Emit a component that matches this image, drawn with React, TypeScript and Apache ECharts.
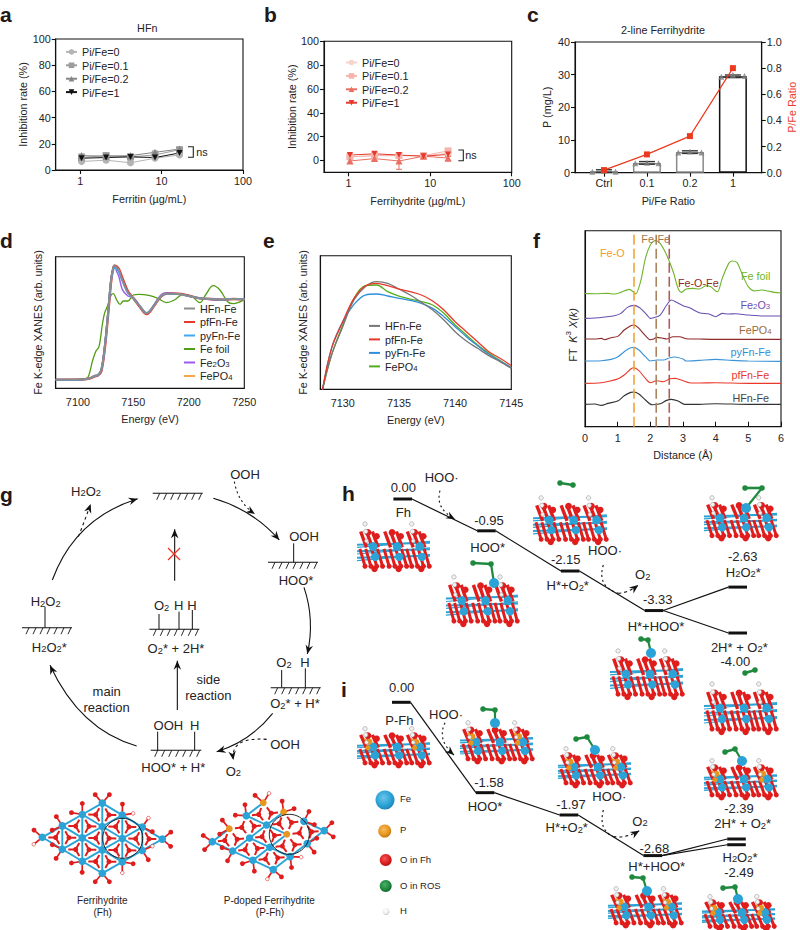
import React, { useEffect, useRef } from "react";
import * as echarts from "echarts";

const FONT = "Liberation Sans";
const INK = "#262324";
const FS = 10.8;

// ---------- data ----------
const concX = [1.04, 2.08, 4.15, 8.3, 16.6];
const piNames = ["Pi/Fe=0", "Pi/Fe=0.1", "Pi/Fe=0.2", "Pi/Fe=1"];
const piSymbols = ["circle", "rect", "triangle", "path://M0,0 L10,0 L5,10 Z"];
const hfnColors = ["#b4b4b4", "#9c9c9c", "#858585", "#111111"];
const fhColors = ["#f7d3cd", "#f4b5ae", "#ea6e62", "#e4392b"];
const hfnValues = [
  [6.5, 7.5, 5.5, 9, 11.5],
  [9.5, 11, 10, 11.5, 15.5],
  [11, 10.5, 11, 13.5, 16],
  [9, 9.5, 10, 9.5, 13],
];
const hfnErr = [1.2, 1.5, 1.2, 1, 1.2];
const fhValues = [
  [3, 4, 4, 4, 6],
  [3, 4, 4, 4, 8],
  [-0.5, 1.5, -0.5, 3.5, 2],
  [4.5, 5.5, 4.5, 3.5, 5],
];
const fhErr0 = [2, 2.5, 2, 2, 2];
const fhErr2 = [2, 2, 7, 2, 2.5];

const cCats = ["Ctrl", "0.1", "0.2", "1"];
const cMeans = [0.5, 3, 6.3, 29.5];
const cBarColors = ["#8a8a8a", "#8a8a8a", "#8a8a8a", "#111111"];
const cPts = [
  [0.3, 0.6, 0.3],
  [2.9, 3.05, 2.9],
  [6.2, 6.5, 6.2],
  [29.4, 30, 29.6],
];
const cJitter = [-0.27, 0, 0.27];
const cRatio = [0.02, 0.14, 0.28, 0.8];

const dMainX = [7080, 7100, 7108, 7112, 7115, 7118, 7121, 7124, 7127, 7130, 7132, 7133, 7135, 7137, 7140, 7145, 7150, 7155, 7160, 7162, 7165, 7170, 7175, 7180, 7190, 7200, 7210, 7220, 7230, 7240, 7250];
const dHFn = [26, 26, 28, 32, 38, 40, 55, 120, 220, 330, 365, 370, 362, 355, 325, 288, 270, 250, 228, 225, 232, 255, 277, 284, 283, 277, 270, 268, 266, 268, 267];
const dPf = [26, 26, 28, 31, 36, 38, 50, 112, 212, 322, 362, 368, 366, 358, 332, 292, 270, 248, 226, 223, 230, 254, 276, 284, 284, 278, 270, 268, 266, 268, 267];
const dPy = [26, 26, 28, 32, 37, 40, 54, 118, 218, 326, 358, 362, 358, 350, 324, 287, 270, 250, 229, 226, 233, 256, 277, 284, 283, 277, 270, 268, 266, 268, 267];
const dFe2O3 = [26, 26, 28, 32, 38, 40, 56, 122, 222, 332, 364, 366, 350, 335, 297, 277, 272, 252, 230, 226, 234, 258, 281, 287, 284, 276, 270, 266, 264, 268, 268];
const dPO4 = [26, 26, 28, 31, 36, 39, 52, 116, 216, 326, 362, 366, 360, 352, 326, 288, 270, 250, 229, 226, 232, 255, 277, 284, 283, 277, 270, 268, 266, 268, 267];
const dFoilX = [7080, 7100, 7108, 7110, 7113, 7116, 7119, 7122, 7124, 7127, 7130, 7132, 7135, 7138, 7141, 7145, 7150, 7155, 7165, 7172, 7180, 7187, 7195, 7203, 7210, 7215, 7222, 7228, 7235, 7240, 7245, 7250];
const dFoil = [26, 27, 30, 40, 80, 110, 125, 190, 225, 250, 280, 284, 265, 252, 262, 262, 280, 282, 278, 270, 257, 265, 282, 275, 257, 280, 308, 295, 260, 254, 258, 266];

const eX = [7128.2, 7129, 7130, 7131, 7132, 7133, 7134, 7135, 7136, 7137, 7138, 7139, 7140, 7141, 7142, 7143, 7144, 7145];
const eHFn = [0, 103, 188, 268, 308, 323, 318, 301, 283, 261, 238, 208, 173, 145, 123, 101, 83, 63];
const ePf = [0, 123, 203, 273, 310, 318, 311, 301, 293, 283, 265, 238, 203, 173, 143, 113, 93, 71];
const ePy = [0, 123, 203, 255, 283, 286, 280, 273, 267, 258, 243, 218, 188, 158, 131, 105, 85, 65];
const ePO4 = [0, 103, 193, 273, 311, 313, 293, 280, 271, 263, 253, 228, 193, 163, 133, 108, 86, 63];

const fNames = ["Fe foil", "Fe2O3", "FePO4", "pyFn-Fe", "pfFn-Fe", "HFn-Fe"];
const fColors = ["#6db52a", "#6b4fb0", "#8e2a2a", "#3b93d8", "#e8392b", "#333333"];
const fSeries: [number, number][][] = [
  [[0,400],[0.3,399],[0.7,400],[0.9,398],[1.1,403],[1.35,412],[1.5,403],[1.55,398],[1.7,435],[1.85,505],[2,545],[2.15,558],[2.3,550],[2.5,515],[2.7,465],[2.85,415],[2.95,403],[3.1,413],[3.3,415],[3.5,413],[3.7,423],[3.85,420],[4,407],[4.06,405],[4.2,445],[4.4,490],[4.5,497],[4.65,493],[4.8,460],[5,420],[5.2,407],[5.4,410],[5.6,407],[5.8,403],[6,401]],
  [[0,325],[0.3,326],[0.6,329],[0.9,333],[1.1,340],[1.3,358],[1.5,364],[1.7,355],[1.9,335],[2,325],[2.1,327],[2.3,335],[2.5,365],[2.65,380],[2.8,373],[3,363],[3.2,357],[3.5,342],[3.8,338],[4,330],[4.2,340],[4.4,338],[4.6,339],[5,335],[5.5,332],[6,332]],
  [[0,263],[0.3,263],[0.5,265],[0.6,261],[0.8,267],[1,271],[1.2,290],[1.4,303],[1.5,305],[1.65,295],[1.85,273],[2,261],[2.1,263],[2.2,268],[2.4,265],[2.5,263],[2.7,270],[2.9,270],[3.1,264],[3.5,263],[4,262],[5,262],[6,262]],
  [[0,197],[0.5,198],[0.8,202],[1,209],[1.2,225],[1.4,237],[1.5,238],[1.65,230],[1.85,210],[2,197],[2.2,200],[2.4,200],[2.6,207],[2.75,209],[3,203],[3.1,197],[3.5,199],[4,202],[4.5,199],[5,197],[6,196]],
  [[0,130],[0.5,132],[0.8,138],[1,143],[1.2,155],[1.4,173],[1.5,177],[1.65,168],[1.85,145],[2,132],[2.2,138],[2.4,135],[2.6,144],[2.75,145],[3,138],[3.2,132],[3.5,131],[4,132],[5,130],[6,130]],
  [[0,67],[0.3,68],[0.5,64],[0.7,70],[1,77],[1.2,93],[1.4,103],[1.5,104],[1.65,98],[1.85,80],[2.05,66],[2.3,69],[2.5,79],[2.65,82],[2.85,77],[3.05,67],[3.5,67],[4,69],[5,67],[6,67]],
];
const fMarks = [
  { x: 1.5, color: "#f2a23c" },
  { x: 2.18, color: "#a8855f" },
  { x: 2.58, color: "#b05a60" },
];

const hSteps = [0, 1, 2, 3, 4, 4];
const hEnergy = [0, -0.95, -2.15, -3.33, -2.63, -4.0];
const iEnergy = [0, -1.58, -1.97, -2.68, -2.39, -2.49];
const levelLinks = [[0, 1], [1, 2], [2, 3], [3, 4], [3, 5]];

// ---------- helpers ----------
const richMap = (size: number, color: string) => ({
  n: { fontSize: size, fill: color, color, fontFamily: FONT, lineHeight: size + 1, verticalAlign: "bottom" },
  s: { fontSize: size * 0.72, fill: color, color, fontFamily: FONT, lineHeight: size + 1, verticalAlign: "bottom", padding: [3, 0, 0, 0] },
});
const rt = (s: string) =>
  s
    .split(/(_\d)/)
    .filter(Boolean)
    .map((p) => (p[0] === "_" ? `{s|${p[1]}}` : `{n|${p}}`))
    .join("");

const txt = (x: number, y: number, t: string, o: any = {}) => {
  const size = o.size ?? 13;
  const color = o.color ?? INK;
  const sub = t.includes("_");
  return {
    type: "text",
    x,
    y,
    silent: true,
    z: 50,
    rotation: o.rotation ?? 0,
    style: {
      text: sub ? rt(t) : t,
      fill: color,
      fontSize: size,
      fontWeight: o.weight ?? "normal",
      fontFamily: FONT,
      align: o.align ?? "center",
      verticalAlign: "middle",
      ...(sub ? { rich: richMap(size, color) } : {}),
    },
  };
};
const seg = (x1: number, y1: number, x2: number, y2: number, color = "#111", w = 1.1, dash?: number[]) => ({
  type: "line",
  silent: true,
  z: 20,
  shape: { x1, y1, x2, y2 },
  style: { stroke: color, lineWidth: w, ...(dash ? { lineDash: dash } : {}) },
});
const head = (x: number, y: number, a: number, size = 9) => {
  const pt = (d: number, s: number) => [x - d * Math.cos(a) - s * Math.sin(a), y - d * Math.sin(a) + s * Math.cos(a)];
  return {
    type: "polygon",
    silent: true,
    z: 21,
    shape: { points: [[x, y], pt(size, size * 0.42), pt(size * 0.68, 0), pt(size, -size * 0.42)] },
    style: { fill: "#111" },
  };
};
const curve = (p: number[], o: any = {}) => {
  const [x1, y1, cx, cy, x2, y2] = p.map((v, i) => (i % 2 === 0 ? v / 3 + (o.ox ?? 0) : v / 3 + (o.oy ?? 430)));
  const out: any[] = [
    {
      type: "bezierCurve",
      silent: true,
      z: 20,
      shape: { x1, y1, cpx1: cx, cpy1: cy, x2, y2 },
      style: { stroke: "#111", lineWidth: o.w ?? 1.1, fill: "none", ...(o.dash ? { lineDash: o.dash } : {}) },
    },
  ];
  if (o.arrow !== false) out.push(head(x2, y2, Math.atan2(y2 - cy, x2 - cx), o.size ?? 9));
  return out;
};
const surf = (x0: number, x1: number, y: number) => {
  const out: any[] = [seg(x0, y, x1, y, "#111", 1.1)];
  for (let x = x0 + 7; x < x1 + 1; x += 7) out.push(seg(x, y, x - 3, y + 6.5, "#111", 0.9));
  return out;
};

const BLUE = "#2ba3d6";
const RED = "#e01d1d";
const GREEN = "#1f8a3e";
const ORANGE = "#e8961e";
const dot = (x: number, y: number, r: number, fill: any, stroke?: string) => ({
  type: "circle",
  silent: true,
  z: 30,
  shape: { cx: x, cy: y, r },
  style: { fill, ...(stroke ? { stroke, lineWidth: 0.6 } : {}) },
});
const ball = (x: number, y: number, r: number, fill: any) => dot(x, y, r, fill);
const sphere = (x: number, y: number, r: number, light: string, base: string, dark: string) =>
  dot(x, y, r, {
    type: "radial",
    x: 0.42,
    y: 0.38,
    r: 0.68,
    colorStops: [
      { offset: 0, color: light },
      { offset: 0.6, color: base },
      { offset: 1, color: dark },
    ],
  });

const slab = (x: number, y: number, w: number, h: number, o: any = {}) => {
  const out: any[] = [];
  const cols = [0.2, 0.53, 0.84];
  const X = (f: number) => x + w * f;
  const Y = (f: number) => y + h * f;
  // Fe planes sit behind the oxygen columns
  [0.44, 0.58, 0.72].forEach((r) => {
    out.push(seg(x, Y(r) + 1, x + w, Y(r) - 1, BLUE, 2));
    out.push(seg(x, Y(r + 0.08), x + w, Y(r - 0.05), BLUE, 1.2));
  });
  cols.forEach((c, i) => {
    // lower oxygen rows
    [-0.16, -0.08, 0, 0.08].forEach((d) => {
      out.push(seg(X(c + d), Y(0.55), X(c + d + 0.07), Y(0.92), RED, 3));
      out.push(ball(X(c + d + 0.07), Y(0.92), 2.5, RED));
    });
    out.push(ball(X(c + 0.04), Y(0.98), 3.2, RED));
    // upper oxygen rows
    [-0.1, -0.02, 0.06].forEach((d) => {
      out.push(seg(X(c + d - 0.05), Y(0.18), X(c + d + 0.03), Y(0.52), RED, 3.4));
    });
    out.push(ball(X(c - 0.05), Y(0.2), 3.4, RED));
    out.push(ball(X(c + 0.07), Y(0.28), 3.2, RED));
    out.push(ball(X(c + 0.02), Y(0.5), 4.4, BLUE));
    out.push(ball(X(c + 0.05), Y(0.72), 4.2, BLUE));
    if (o.p && i !== 1) {
      out.push(seg(X(c - 0.1), Y(0.28), X(c + 0.02), Y(0.5), ORANGE, 2));
      out.push(ball(X(c - 0.03), Y(0.36), 3, ORANGE));
      out.push(ball(X(c - 0.05), Y(0.52), 2.6, ORANGE));
    }
    if (i !== 1) {
      out.push(dot(X(c - 0.09), Y(0.02), 2.2, "#f2f2f2", "#999"));
      out.push(dot(X(c - 0.08), Y(0.18), 2.2, "#f2f2f2", "#999"));
      out.push(dot(X(c - 0.07), Y(0.38), 1.9, "#f2f2f2", "#999"));
    }
  });
  return out;
};
const ros = (a: number[], b: number[], fe?: number[]) => {
  const out: any[] = [seg(a[0], a[1], b[0], b[1], GREEN, 2.6), ball(a[0], a[1], 2.8, GREEN), ball(b[0], b[1], 2.8, GREEN)];
  if (fe) {
    out.push(seg(b[0], b[1], fe[0], fe[1], GREEN, 2.2));
    out.push(ball(fe[0], fe[1], 5, BLUE));
  }
  return out;
};
const hexView = (x0: number, y0: number, a1: number[], a2: number[], orange: string[], ring: number[], seed: number) => {
  const out: any[] = [];
  const P = (i: number, j: number) => [x0 + i * a1[0] + j * a2[0], y0 + i * a1[1] + j * a2[1]];
  for (let i = 0; i < 4; i++)
    for (let j = 0; j < 4; j++) {
      const c = P(i, j);
      if (i < 3 && !orange.includes(`${i},${j}`)) out.push(seg(c[0], c[1], P(i + 1, j)[0], P(i + 1, j)[1], BLUE, 1.9));
      if (j < 3 && !orange.includes(`${i},${j}`)) out.push(seg(c[0], c[1], P(i, j + 1)[0], P(i, j + 1)[1], BLUE, 1.9));
      if (i < 3 && j > 0 && seed === 0) out.push(seg(c[0], c[1], P(i + 1, j - 1)[0], P(i + 1, j - 1)[1], BLUE, 1.9));
    }
  const trefoil = (c: number[], vs: number[][]) => {
    vs.forEach((v) => {
      const m = [c[0] * 0.45 + v[0] * 0.55, c[1] * 0.45 + v[1] * 0.55];
      out.push(seg(c[0], c[1], m[0], m[1], RED, 2));
    });
    out.push(ball(c[0], c[1], 2.5, RED));
  };
  for (let i = 0; i < 3; i++)
    for (let j = 0; j < 3; j++) {
      const p = P(i, j);
      const q = P(i + 1, j);
      const r = P(i, j + 1);
      const s = P(i + 1, j + 1);
      trefoil([(p[0] + q[0] + r[0]) / 3, (p[1] + q[1] + r[1]) / 3], [p, q, r]);
      trefoil([(s[0] + q[0] + r[0]) / 3, (s[1] + q[1] + r[1]) / 3], [s, q, r]);
    }
  for (let i = 0; i < 4; i++)
    for (let j = 0; j < 4; j++) {
      if (i > 0 && i < 3 && j > 0 && j < 3) continue;
      const c = P(i, j);
      const vx = c[0] - P(1.5, 1.5)[0];
      const vy = c[1] - P(1.5, 1.5)[1];
      const len = Math.hypot(vx, vy) || 1;
      [-0.7, 0.7].forEach((t, k) => {
        const ang = Math.atan2(vy, vx) + t;
        const ex = c[0] + 11 * Math.cos(ang);
        const ey = c[1] + 11 * Math.sin(ang);
        out.push(seg(c[0], c[1], ex, ey, RED, 1.7));
        const white = (i + j + k + seed) % 5 === 0 && len > 30;
        out.push(white ? dot(ex, ey, 1.8, "#fff", RED) : ball(ex, ey, 2.4, RED));
      });
    }
  for (let i = 0; i < 4; i++)
    for (let j = 0; j < 4; j++) {
      const c = P(i, j);
      if (orange.includes(`${i},${j}`)) out.push(ball(c[0], c[1], 3.4, ORANGE));
      else out.push(ball(c[0], c[1], 3.8, BLUE));
    }
  out.push({
    type: "circle",
    silent: true,
    z: 35,
    shape: { cx: ring[0], cy: ring[1], r: 20 },
    style: { fill: "none", stroke: "#111", lineWidth: 0.9 },
  });
  return out;
};

// ---------- panels ----------
const axisText = { color: INK, fontSize: FS, fontFamily: FONT, margin: 5 };
const axLine = { show: true, onZero: false, lineStyle: { color: "#111", width: 1.1 } };
const tick = { show: true, length: 4, lineStyle: { color: "#111", width: 1.1 } };
const nameStyle = { color: INK, fontSize: FS, fontFamily: FONT };
const gridBox = (left: number, top: number, right: number, bottom: number) => ({
  show: true,
  left,
  top,
  width: right - left,
  height: bottom - top,
  borderColor: "#111",
  borderWidth: 1.1,
  backgroundColor: "transparent",
});
const logX = (i: number, name: string) => ({
  type: "log",
  gridIndex: i,
  logBase: 10,
  min: 0.5,
  max: 100,
  name,
  nameLocation: "middle",
  nameGap: 23,
  nameTextStyle: nameStyle,
  axisLine: axLine,
  axisTick: { ...tick, customValues: [1, 10, 100] },
  axisLabel: { ...axisText, customValues: [1, 10, 100], formatter: (v: number) => String(Math.round(v)) },
  minorTick: { show: false },
  splitLine: { show: false },
});
const rateY = (i: number, min: number, gap: number) => ({
  type: "value",
  gridIndex: i,
  min,
  max: 100,
  name: "Inhibition rate (%)",
  nameLocation: "middle",
  nameGap: gap,
  nameTextStyle: nameStyle,
  axisLine: axLine,
  axisTick: { ...tick, customValues: [0, 20, 40, 60, 80, 100] },
  axisLabel: { ...axisText, customValues: [0, 20, 40, 60, 80, 100] },
  splitLine: { show: false },
});
const errBars = (xi: number, yi: number, rows: number[][], color: string, cap = 3, w = 1) => ({
  type: "custom",
  xAxisIndex: xi,
  yAxisIndex: yi,
  silent: true,
  z: 3,
  data: rows,
  encode: { x: 0, y: [1, 2] },
  renderItem: (_p: any, api: any) => {
    const lo = api.coord([api.value(0), api.value(1)]);
    const hi = api.coord([api.value(0), api.value(2)]);
    const st = { stroke: color, lineWidth: w };
    return {
      type: "group",
      children: [
        { type: "line", shape: { x1: lo[0], y1: lo[1], x2: hi[0], y2: hi[1] }, style: st },
        { type: "line", shape: { x1: lo[0] - cap, y1: lo[1], x2: lo[0] + cap, y2: lo[1] }, style: st },
        { type: "line", shape: { x1: hi[0] - cap, y1: hi[1], x2: hi[0] + cap, y2: hi[1] }, style: st },
      ],
    };
  },
});
const doseSeries = (xi: number, colors: string[], values: number[][]) =>
  values.map((vals, k) => ({
    type: "line",
    name: piNames[k],
    xAxisIndex: xi,
    yAxisIndex: xi,
    z: 5,
    symbol: piSymbols[k],
    symbolSize: k === 3 ? 6 : 7,
    lineStyle: { color: colors[k], width: 1 },
    itemStyle: { color: colors[k] },
    data: vals.map((v, i) => [concX[i], v]),
  }));
const legendAt = (left: number, top: number, names: any[], gap: number, w = 11, h = 7) => ({
  show: true,
  orient: "vertical",
  left,
  top,
  padding: 0,
  itemGap: gap,
  itemWidth: w,
  itemHeight: h,
  selectedMode: false,
  align: "left",
  data: names,
  formatter: (n: string) => rt(/^Fe(2O3|PO4)$/.test(n) ? n.replace(/(\d)/g, "_$1") : n),
  textStyle: { color: INK, fontSize: FS, fontFamily: FONT, rich: richMap(FS, INK), padding: [0, 0, 0, 0] },
});
const xanesLine = (xi: number, name: string, xs: number[], ys: number[], color: string, w = 1.6) => ({
  type: "line",
  name,
  xAxisIndex: xi,
  yAxisIndex: xi === 3 ? 4 : 5,
  smooth: 0.35,
  showSymbol: false,
  symbol: "none",
  lineStyle: { color, width: w },
  itemStyle: { color },
  data: xs.map((x, i) => [x, ys[i]]),
});
const lineKey = (name: string, color: string) => ({ name, icon: "rect", itemStyle: { color } });

const levelSeries = (xi: number, yi: number, energy: number[]) => [
  ...levelLinks.map(([a, b]) => ({
    type: "line",
    xAxisIndex: xi,
    yAxisIndex: yi,
    silent: true,
    clip: false,
    symbol: "none",
    lineStyle: { color: "#111", width: 1.2 },
    data: [
      [hSteps[a] + 0.11, energy[a]],
      [hSteps[b] - 0.11, energy[b]],
    ],
  })),
  {
    type: "custom",
    xAxisIndex: xi,
    yAxisIndex: yi,
    silent: true,
    clip: false,
    z: 6,
    data: energy.map((e, i) => [hSteps[i], e]),
    renderItem: (_p: any, api: any) => {
      const c = api.coord([api.value(0), api.value(1)]);
      return {
        type: "line",
        shape: { x1: c[0] - 9.3, y1: c[1], x2: c[0] + 9.3, y2: c[1] },
        style: { stroke: "#111", lineWidth: 3 },
      };
    },
  },
];

const graphicEls = (): any[] => {
  const L: any[] = [];
  const add = (...e: any[]) => e.forEach((v) => (Array.isArray(v) ? L.push(...v) : L.push(v)));
  ([["a", 0, 14], ["b", 264, 14], ["c", 527, 14], ["d", 0, 240], ["e", 263, 240], ["f", 533, 240], ["g", 0, 494], ["h", 342, 493], ["i", 341, 689]] as [string, number, number][]).forEach(
    ([t, x, y]) => add(txt(x, y, t, { size: 21, weight: "bold", align: "left", color: "#231815" }))
  );
  add(txt(147.3, 28, "HFn", { size: FS }), txt(663, 30, "2-line Ferrihydrite", { size: FS }));
  add(
    { type: "polyline", silent: true, shape: { points: [[188, 146.7], [193.3, 146.7], [193.3, 157.3], [188, 157.3]] }, style: { stroke: "#222", lineWidth: 1.1, fill: "none" } },
    { type: "polyline", silent: true, shape: { points: [[458.3, 150], [463.3, 150], [463.3, 160.7], [458.3, 160.7]] }, style: { stroke: "#222", lineWidth: 1.1, fill: "none" } },
    txt(202, 152, "ns", { size: FS }),
    txt(471, 155, "ns", { size: FS })
  );
  add(
    txt(612.3, 253, "Fe-O", { size: FS, color: "#f29a2e" }),
    txt(655.7, 239, "Fe-Fe", { size: FS, color: "#a0754f" }),
    txt(698.3, 283.3, "Fe-O-Fe", { size: FS, color: "#8e2a2a" }),
    txt(755.7, 275.7, "Fe foil", { size: FS, color: "#6db52a" }),
    txt(755.3, 304.3, "Fe_2O_3", { size: FS, color: "#6b4fb0" }),
    txt(755.3, 330, "FePO_4", { size: FS, color: "#9a6a3a" }),
    txt(750.7, 352.3, "pyFn-Fe", { size: FS, color: "#2f8fdc" }),
    txt(750.3, 374.7, "pfFn-Fe", { size: FS, color: "#e8392b" }),
    txt(750.7, 397.7, "HFn-Fe", { size: FS, color: "#444" })
  );
  add({
    type: "text",
    x: 571.7,
    y: 335,
    rotation: Math.PI / 2,
    silent: true,
    style: {
      text: "{n|FT  }{i|K}{u|3}{i| X(k)}",
      align: "center",
      verticalAlign: "middle",
      fill: INK,
      fontFamily: FONT,
      fontSize: FS,
      rich: {
        n: { fontSize: FS, fontFamily: FONT, fill: INK, color: INK, lineHeight: 14, verticalAlign: "bottom" },
        i: { fontSize: FS, fontFamily: FONT, fontStyle: "italic", fill: INK, color: INK, lineHeight: 14, verticalAlign: "bottom" },
        u: { fontSize: 8, fontFamily: FONT, fill: INK, color: INK, lineHeight: 14, verticalAlign: "top" },
      },
    },
  });

  const tg = (x: number, y: number, t: string, o: any = {}) => txt(x / 3, 430 + y / 3, t, o);
  const stick = (x: number, y1: number, y2: number) => seg(x / 3, 430 + y1 / 3, x / 3, 430 + y2 / 3, "#111", 1);
  add(surf(152.7, 202.7, 493.3), surf(268, 318, 562.3), surf(270.7, 320.7, 687.7), surf(150.7, 201.3, 750.3), surf(149.3, 199.3, 629.3), surf(22, 72, 627.7));
  add(stick(881, 340, 397), stick(845, 720, 773), stick(916, 715, 773), stick(473, 905, 961), stick(584, 905, 961), stick(477, 552, 598), stick(537, 545, 598), stick(577, 540, 598), stick(135, 530, 593));
  add(
    tg(735, 132, "OOH"),
    tg(258, 182, "H_2O_2"),
    tg(912, 320, "OOH"),
    tg(888, 450, "HOO*"),
    tg(852, 697, "O_2"),
    tg(915, 697, "H"),
    tg(885, 820, "O_2* + H*"),
    tg(505, 885, "OOH"),
    tg(584, 885, "H"),
    tg(520, 1012, "HOO* + H*"),
    tg(485, 525, "O_2"),
    tg(536, 525, "H"),
    tg(576, 525, "H"),
    tg(528, 655, "O_2* + 2H*"),
    tg(137, 513, "H_2O_2"),
    tg(148, 650, "H_2O_2*"),
    tg(625, 747, "side"),
    tg(625, 795, "reaction"),
    tg(320, 785, "main"),
    tg(320, 832, "reaction"),
    tg(700, 1022, "O_2"),
    tg(855, 943, "OOH"),
    tg(307, 1410, "Ferrihydrite", { size: 10 }),
    tg(308, 1447, "(Fh)", { size: 10 }),
    tg(808, 1410, "P-doped Ferrihydrite", { size: 10 }),
    tg(810, 1447, "(P-Fh)", { size: 10 })
  );
  add(
    curve([157, 450, 225, 265, 413, 206]),
    curve([640, 205, 760, 240, 838, 330]),
    curve([912, 472, 945, 570, 922, 672]),
    curve([818, 850, 750, 935, 650, 965]),
    curve([410, 948, 240, 900, 150, 706]),
    curve([532, 840, 532, 770, 532, 692]),
    curve([524, 452, 524, 380, 524, 298]),
    curve([703, 155, 715, 220, 765, 252], { dash: [2, 3] }),
    curve([235, 320, 255, 270, 272, 222], { dash: [3, 3] }),
    curve([800, 928, 690, 920, 700, 990], { dash: [3, 3] })
  );
  add(seg(168, 548, 180, 560, "#ee3322", 1.2), seg(180, 548, 168, 560, "#ee3322", 1.2));
  add(hexView(42.3, 837.3, [20, -11.4], [20, 12], [], [122.7, 838.3], 0));
  add(hexView(212.3, 841.7, [17, -13], [20.3, 9.3], ["3,0", "1,0", "2,2", "3,1"], [289.3, 834.3], 1));

  add(
    txt(403.3, 487.3, "0.00"),
    txt(403.3, 512.7, "Fh"),
    txt(441.7, 477.3, "HOO·"),
    txt(489, 520, "-0.95"),
    txt(487.7, 547.7, "HOO*"),
    txt(565.7, 559.3, "-2.15"),
    txt(567.7, 585, "H*+O_2*"),
    txt(605, 550.7, "HOO·"),
    txt(642.7, 574, "O_2"),
    txt(657.7, 599.3, "-3.33"),
    txt(656, 626.7, "H*+HOO*"),
    txt(742.7, 556.7, "-2.63"),
    txt(743.3, 571.7, "H_2O_2*"),
    txt(739.3, 646.8, "2H* + O_2*"),
    txt(735.3, 661, "-4.00"),
    txt(401.7, 687.7, "0.00"),
    txt(399.3, 720, "P-Fh"),
    txt(446, 714, "HOO·"),
    txt(489, 782.7, "-1.58"),
    txt(485, 806, "HOO*"),
    txt(571, 804.3, "-1.97"),
    txt(566.7, 827.3, "H*+O_2*"),
    txt(609.3, 796.7, "HOO·"),
    txt(640, 820.7, "O_2"),
    txt(654.3, 848, "-2.68"),
    txt(656.7, 866, "H*+HOO*"),
    txt(739, 808.3, "-2.39"),
    txt(742.7, 823.3, "2H* + O_2*"),
    txt(740, 856.7, "H_2O_2*"),
    txt(739, 872.7, "-2.49")
  );
  const hOpt = { ox: 340, oy: 430 };
  const iOpt = { ox: 340, oy: 680 };
  add(
    curve([300, 182, 285, 235, 345, 268], { ...hOpt, dash: [2, 3] }),
    curve([790, 405, 770, 470, 835, 490], { ...hOpt, dash: [2, 3], arrow: false }),
    curve([835, 490, 865, 488, 895, 465], { ...hOpt, dash: [3, 3] }),
    curve([315, 128, 290, 180, 342, 225], { ...iOpt, dash: [2, 3] }),
    curve([790, 390, 775, 450, 820, 470], { ...iOpt, dash: [2, 3], arrow: false }),
    curve([820, 470, 860, 475, 898, 452], { ...iOpt, dash: [3, 3] })
  );

  add(slab(357, 523, 73, 47));
  add(slab(446, 576, 72, 49), ros([473, 563], [491, 564], [494, 583]));
  add(slab(533, 497, 74, 46), ros([560, 483], [573, 485]));
  add(slab(610, 650, 73, 48), ros([641, 639], [648, 640], [651, 653]));
  add(slab(704, 497, 73, 42), ros([745, 488], [762, 488], [746, 508]));
  add(slab(704, 683, 73, 50), ros([745, 673], [755, 670]));
  add(slab(357, 728, 73, 38, { p: true }));
  add(slab(460, 722, 73, 40, { p: true }), ros([483, 709], [495, 710], [495, 723]));
  add(slab(558, 748, 73, 38, { p: true }), ros([576, 739], [587, 737], [595, 750]));
  add(slab(608, 888, 74, 38, { p: true }), ros([632, 877], [643, 878], [647, 891]));
  add(slab(704, 760, 73, 38, { p: true }), ros([725, 752], [735, 749], [742, 761]));
  add(slab(702, 896, 73, 33, { p: true }), ros([723, 888], [735, 887], [738, 899]));
  add(
    sphere(385, 800, 9.5, "#6cc4ea", BLUE, "#1c7fb0"),
    sphere(384.7, 831, 6.5, "#f6bd62", ORANGE, "#b56f10"),
    sphere(385.7, 860, 6, "#f0595a", RED, "#a81010"),
    sphere(385.7, 886, 6, "#4cae68", GREEN, "#136029"),
    sphere(386, 911.5, 3.5, "#ffffff", "#eeeeee", "#bbbbbb"),
    txt(400, 798, "Fe", { size: 9.5, align: "left" }),
    txt(400, 829.5, "P", { size: 9.5, align: "left" }),
    txt(400, 859.7, "O in Fh", { size: 9.5, align: "left" }),
    txt(400, 885, "O in ROS", { size: 9.5, align: "left" }),
    txt(400, 910, "H", { size: 9.5, align: "left" })
  );
  return L;
};

const buildOption = () => ({
  animation: false,
  backgroundColor: "#ffffff",
  textStyle: { fontFamily: FONT },
  grid: [
    gridBox(55.7, 39, 243, 170),
    gridBox(324, 41.3, 511.7, 172.3),
    gridBox(575, 42, 761.7, 172.7),
    gridBox(55.7, 256.7, 244.3, 388.3),
    gridBox(320.3, 255.7, 511.3, 389.3),
    gridBox(585, 230.7, 781, 426.7),
    { show: false, left: 402.7, top: 499, width: 335, height: 134 },
    { show: false, left: 401.3, top: 702.3, width: 335.2, height: 171.6 },
  ],
  xAxis: [
    logX(0, "Ferritin (µg/mL)"),
    logX(1, "Ferrihydrite (µg/mL)"),
    {
      type: "value",
      gridIndex: 2,
      min: -0.674,
      max: 3.67,
      name: "Pi/Fe Ratio",
      nameLocation: "middle",
      nameGap: 23,
      nameTextStyle: nameStyle,
      axisLine: axLine,
      axisTick: { ...tick, customValues: [0, 1, 2, 3] },
      axisLabel: { ...axisText, customValues: [0, 1, 2, 3], formatter: (v: number) => cCats[v] },
      splitLine: { show: false },
    },
    {
      type: "value",
      gridIndex: 3,
      min: 7080,
      max: 7250,
      name: "Energy (eV)",
      nameLocation: "middle",
      nameGap: 25,
      nameTextStyle: nameStyle,
      axisLine: axLine,
      axisTick: { show: false },
      axisLabel: { ...axisText, margin: 8, customValues: [7100, 7150, 7200, 7250], formatter: (v: number) => String(v) },
      splitLine: { show: false },
    },
    {
      type: "value",
      gridIndex: 4,
      min: 7128,
      max: 7145,
      name: "Energy (eV)",
      nameLocation: "middle",
      nameGap: 25,
      nameTextStyle: nameStyle,
      axisLine: axLine,
      axisTick: { show: false },
      axisLabel: { ...axisText, margin: 8, customValues: [7130, 7135, 7140, 7145], formatter: (v: number) => String(v) },
      splitLine: { show: false },
    },
    {
      type: "value",
      gridIndex: 5,
      min: 0,
      max: 6,
      interval: 1,
      name: "Distance (Å)",
      nameLocation: "middle",
      nameGap: 23,
      nameTextStyle: nameStyle,
      axisLine: axLine,
      axisTick: { show: true, inside: true, length: 5, lineStyle: { color: "#111", width: 1 } },
      axisLabel: { ...axisText, margin: 6 },
      splitLine: { show: false },
    },
    { type: "value", gridIndex: 6, min: 0, max: 4, show: false },
    { type: "value", gridIndex: 7, min: 0, max: 4, show: false },
  ],
  yAxis: [
    rateY(0, 0, 23),
    rateY(1, -10, 23),
    {
      type: "value",
      gridIndex: 2,
      min: 0,
      max: 40,
      interval: 10,
      name: "P (mg/L)",
      nameLocation: "middle",
      nameGap: 23,
      nameTextStyle: nameStyle,
      axisLine: axLine,
      axisTick: tick,
      axisLabel: axisText,
      splitLine: { show: false },
    },
    {
      type: "value",
      gridIndex: 2,
      position: "right",
      min: 0,
      max: 1,
      interval: 0.2,
      name: "P/Fe Ratio",
      nameLocation: "middle",
      nameRotate: 90,
      nameGap: 25,
      nameTextStyle: { ...nameStyle, color: "#ec3a2e" },
      axisLine: axLine,
      axisTick: tick,
      axisLabel: { ...axisText, formatter: (v: number) => v.toFixed(1) },
      splitLine: { show: false },
    },
    {
      type: "value",
      gridIndex: 3,
      min: 0,
      max: 395,
      name: "Fe K-edge XANES (arb. units)",
      nameLocation: "middle",
      nameGap: 12,
      nameTextStyle: nameStyle,
      axisLine: axLine,
      axisTick: { show: false },
      axisLabel: { show: false },
      splitLine: { show: false },
    },
    {
      type: "value",
      gridIndex: 4,
      min: 0,
      max: 401,
      name: "Fe K-edge XANES (arb. units)",
      nameLocation: "middle",
      nameGap: 12,
      nameTextStyle: nameStyle,
      axisLine: axLine,
      axisTick: { show: false },
      axisLabel: { show: false },
      splitLine: { show: false },
    },
    { type: "value", gridIndex: 5, min: 0, max: 588, axisLine: axLine, axisTick: { show: false }, axisLabel: { show: false }, splitLine: { show: false } },
    { type: "value", gridIndex: 6, min: -4, max: 0, show: false },
    { type: "value", gridIndex: 7, min: -3, max: 0, show: false },
  ],
  legend: [
    legendAt(65, 46.8, piNames.map((n, k) => ({ name: n, itemStyle: { color: hfnColors[k] }, lineStyle: { color: hfnColors[k] } })), 2.4),
    legendAt(345, 57.4, piNames.map((n, k) => ({ name: n, itemStyle: { color: fhColors[k] }, lineStyle: { color: fhColors[k] } })), 2.4),
    legendAt(184, 303.4, [
      lineKey("HFn-Fe", "#8c8c8c"),
      lineKey("pfFn-Fe", "#e8392b"),
      lineKey("pyFn-Fe", "#3fa9f5"),
      lineKey("Fe foil", "#4f9e13"),
      lineKey("Fe2O3", "#9b59f0"),
      lineKey("FePO4", "#f5a64c"),
    ], 2.5, 11, 2),
    legendAt(369, 320.8, [
      lineKey("HFn-Fe", "#777777"),
      lineKey("pfFn-Fe", "#e8392b"),
      lineKey("pyFn-Fe", "#2f8fdc"),
      lineKey("FePO4", "#52ae1a"),
    ], 2.5, 11, 2),
  ],
  series: [
    ...doseSeries(0, hfnColors, hfnValues),
    ...hfnValues.map((vals, k) =>
      errBars(0, 0, vals.map((v, i) => [concX[i], v - hfnErr[i], v + hfnErr[i]]), hfnColors[k])
    ),
    ...doseSeries(1, fhColors, fhValues),
    errBars(1, 1, fhValues[0].map((v, i) => [concX[i], v - fhErr0[i], v + fhErr0[i]]), fhColors[1]),
    errBars(1, 1, fhValues[2].map((v, i) => [concX[i], v - fhErr2[i], v + fhErr2[i]]), fhColors[2]),
    errBars(1, 1, fhValues[3].map((v, i) => [concX[i], v - 1.5, v + 1.5]), fhColors[3]),
    {
      type: "bar",
      xAxisIndex: 2,
      yAxisIndex: 2,
      barWidth: 28,
      z: 2,
      data: cMeans.map((v, i) => ({
        value: [i, v],
        itemStyle: { color: "rgba(255,255,255,0)", borderColor: cBarColors[i], borderWidth: 1.5 },
      })),
    },
    errBars(2, 2, cMeans.map((v, i) => [i, v - 0.4, v + 0.4]), "#333", 8, 1.4),
    {
      type: "scatter",
      xAxisIndex: 2,
      yAxisIndex: 2,
      symbol: "triangle",
      symbolSize: 6,
      z: 4,
      itemStyle: { color: "#808080" },
      data: cPts.flatMap((row, i) => row.map((v, j) => [i + cJitter[j], v])),
    },
    {
      type: "line",
      xAxisIndex: 2,
      yAxisIndex: 3,
      z: 6,
      symbol: "rect",
      symbolSize: 6,
      lineStyle: { color: "#ec3a1e", width: 1.2 },
      itemStyle: { color: "#ec3a1e" },
      data: cRatio.map((v, i) => [i, v]),
    },
    xanesLine(3, "Fe foil", dFoilX, dFoil, "#4f9e13", 1.3),
    xanesLine(3, "FePO4", dMainX, dPO4, "#f5a64c", 2),
    xanesLine(3, "Fe2O3", dMainX, dFe2O3, "#9b59f0", 1.4),
    xanesLine(3, "pfFn-Fe", dMainX, dPf, "#e8392b", 2.4),
    xanesLine(3, "pyFn-Fe", dMainX, dPy, "#3fa9f5", 2),
    xanesLine(3, "HFn-Fe", dMainX, dHFn, "#8c8c8c", 1.8),
    xanesLine(4, "FePO4", eX, ePO4, "#52ae1a", 1.3),
    xanesLine(4, "pyFn-Fe", eX, ePy, "#2f8fdc", 1.3),
    xanesLine(4, "HFn-Fe", eX, eHFn, "#777777", 1.3),
    xanesLine(4, "pfFn-Fe", eX, ePf, "#e8392b", 1.3),
    ...fSeries.map((pts, k) => ({
      type: "line",
      name: fNames[k] + " FT",
      xAxisIndex: 5,
      yAxisIndex: 6,
      smooth: 0.3,
      symbol: "none",
      lineStyle: { color: fColors[k], width: 1.1 },
      data: pts,
    })),
    ...fMarks.map((m) => ({
      type: "line",
      xAxisIndex: 5,
      yAxisIndex: 6,
      symbol: "none",
      z: 8,
      lineStyle: { color: m.color, width: 1.6, type: [10, 4] },
      data: [
        [m.x, 0],
        [m.x, 588],
      ],
    })),
    ...levelSeries(6, 7, hEnergy),
    ...levelSeries(7, 8, iEnergy),
  ],
  graphic: { elements: graphicEls() },
});

export default function App() {
  const ref = useRef<HTMLDivElement>(null);
  useEffect(() => {
    const chart = echarts.init(ref.current!, undefined, { renderer: "svg" });
    chart.setOption(buildOption() as any);
    return () => chart.dispose();
  }, []);
  return <div ref={ref} style={{ position: "absolute", left: 0, top: 0, width: 800, height: 930 }} />;
}
